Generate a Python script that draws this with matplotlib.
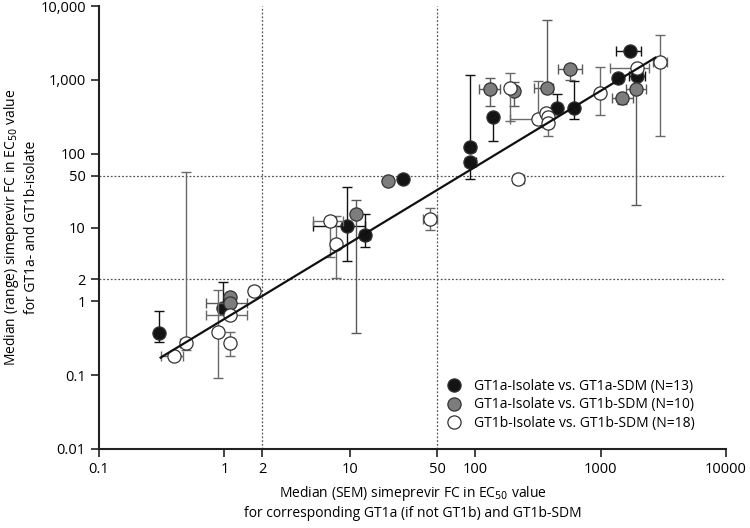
import numpy as np
import matplotlib
matplotlib.use("Agg")
import matplotlib.pyplot as plt

plt.rcParams['font.family'] = ['Open Sans', 'DejaVu Sans']

# GT1a-Isolate vs. GT1a-SDM (black)
blk_x = [0.30, 0.98, 9.5, 13.2, 26.6, 91.6, 91.6, 139, 449, 612, 1374, 1703, 1950]
blk_y = [0.37, 0.82, 10.4, 8.0, 45.5, 76.3, 121.6, 310, 415, 415, 1074, 2466, 1132]
blk_xlo = [0.30, 0.98, 5.1, 12.0, 26.6, 83.5, 85, 139, 449, 612, 1300, 1316, 1700]
blk_xhi = [0.30, 0.98, 13.3, 14.5, 26.6, 101.5, 100, 139, 449, 612, 1450, 2118, 2250]
blk_ylo = [0.28, 0.75, 3.5, 5.5, 45.5, 45.5, 110, 147, 380, 294, 1000, 2300, 1050]
blk_yhi = [0.74, 1.8, 35.8, 15.0, 45.5, 85, 1160, 330, 641, 968, 1150, 2600, 1200]

# GT1a-Isolate vs. GT1b-SDM (gray)
gry_x = [1.1, 1.1, 11.2, 20.3, 130.6, 205, 376, 566, 1479, 1930]
gry_y = [1.14, 0.95, 15.3, 42.3, 763, 710, 772, 1396, 559, 748]
gry_xlo = [1.1, 0.71, 11.2, 20.3, 108, 205, 297, 460, 1222, 1600]
gry_xhi = [1.1, 1.52, 11.2, 20.3, 158, 205, 418, 710, 1816, 2300]
gry_ylo = [1.05, 0.9, 0.37, 42.3, 445, 445, 700, 1000, 470, 20.3]
gry_yhi = [1.25, 1.0, 23.9, 42.3, 1054, 942, 6500, 1500, 632, 800]

# GT1b-Isolate vs. GT1b-SDM (white)
wht_x = [0.40, 0.49, 0.89, 1.1, 1.1, 1.72, 7.0, 7.8, 43.4, 188, 219, 316, 370, 380, 380, 981, 1960, 2990]
wht_y = [0.18, 0.27, 0.385, 0.65, 0.27, 1.38, 12.2, 5.9, 13.1, 772, 45.5, 294, 361, 310, 260, 653, 1466, 1767]
wht_xlo = [0.315, 0.44, 0.89, 0.71, 1.1, 1.56, 5.1, 7.8, 38.4, 188, 200, 188, 370, 380, 340, 981, 1182, 2600]
wht_xhi = [0.47, 0.53, 0.89, 1.52, 1.1, 1.89, 8.85, 7.8, 49.6, 188, 246, 420, 370, 380, 420, 981, 2444, 3400]
wht_ylo = [0.18, 0.22, 0.092, 0.65, 0.18, 1.38, 4.0, 2.09, 9.3, 273, 45.5, 252, 361, 310, 175, 333, 1466, 175]
wht_yhi = [0.18, 57, 1.41, 0.65, 0.385, 1.38, 12.2, 14.2, 18.5, 1256, 45.5, 968, 361, 310, 260, 1513, 1466, 4018]

# regression line end points
line_x = [0.31, 2740]
line_y = [0.173, 2000]

xticks = [0.1, 1, 2, 10, 50, 100, 1000, 10000]
xticklabels = ['0.1', '1', '2', '10', '50', '100', '1000', '10000']
yticks = [0.01, 0.1, 1, 2, 10, 50, 100, 1000, 10000]
yticklabels = ['0.01', '0.1', '1', '2', '10', '50', '100', '1,000', '10,000']

series = [
    (blk_x, blk_y, blk_xlo, blk_xhi, blk_ylo, blk_yhi, '#141414', '#111111',
     'GT1a-Isolate vs. GT1a-SDM (N=13)'),
    (gry_x, gry_y, gry_xlo, gry_xhi, gry_ylo, gry_yhi, '#7d7d7d', '#5a5a5a',
     'GT1a-Isolate vs. GT1b-SDM (N=10)'),
    (wht_x, wht_y, wht_xlo, wht_xhi, wht_ylo, wht_yhi, '#ffffff', '#6a6a6a',
     'GT1b-Isolate vs. GT1b-SDM (N=18)'),
]

fig = plt.figure(figsize=(7.5, 5.28), dpi=100)
ax = fig.add_axes([99 / 750, 79 / 528, 627 / 750, 443 / 528])
ax.set_xscale('log')
ax.set_yscale('log')
ax.set_xlim(0.1, 10000)
ax.set_ylim(0.01, 10000)

# reference lines
for v in [2, 50]:
    ax.axvline(v, color='#555555', ls=(0, (1.5, 1.5)), lw=0.9, zorder=1)
    ax.axhline(v, color='#555555', ls=(0, (1.5, 1.5)), lw=0.9, zorder=1)

z = 3
for xs, ys, xlo, xhi, ylo, yhi, fc, ec, lab in series:
    xs = np.array(xs); ys = np.array(ys)
    xerr = [xs - np.array(xlo), np.array(xhi) - xs]
    yerr = [ys - np.array(ylo), np.array(yhi) - ys]
    ax.errorbar(xs, ys, xerr=xerr, yerr=yerr, fmt='none', ecolor=ec,
                elinewidth=1.0, capsize=3.6, capthick=1.0, zorder=z)
    ax.plot(xs, ys, 'o', ms=9.5, mfc=fc, mec='#333333', mew=0.9,
            ls='none', label=lab, zorder=z + 1)
    z += 2

ax.plot(line_x, line_y, color='#111111', lw=1.6, zorder=10)

ax.set_xticks(xticks)
ax.set_xticklabels(xticklabels)
ax.set_yticks(yticks)
ax.set_yticklabels(yticklabels)
ax.minorticks_off()
ax.tick_params(direction='out', length=6, width=1.2, labelsize=10.5, color='#222222')

for s in ['top', 'right']:
    ax.spines[s].set_visible(False)
for s in ['left', 'bottom']:
    ax.spines[s].set_linewidth(1.5)
    ax.spines[s].set_color('#222222')

ax.set_xlabel('Median (SEM) simeprevir FC in EC$_{50}$ value\n'
              'for corresponding GT1a (if not GT1b) and GT1b-SDM',
              fontsize=10, labelpad=5, linespacing=1.3)
ax.set_ylabel('Median (range) simeprevir FC in EC$_{50}$ value\n'
              'for GT1a- and GT1b-isolate',
              fontsize=10, linespacing=1.25)
ax.yaxis.set_label_coords(-0.096, 0.5)

ax.legend(loc='upper left', bbox_to_anchor=(0.54, 0.18), frameon=False,
          fontsize=10, handletextpad=0.9, labelspacing=0.25,
          handlelength=1.0, borderpad=0.2)

fig.savefig('out.png', dpi=100)
